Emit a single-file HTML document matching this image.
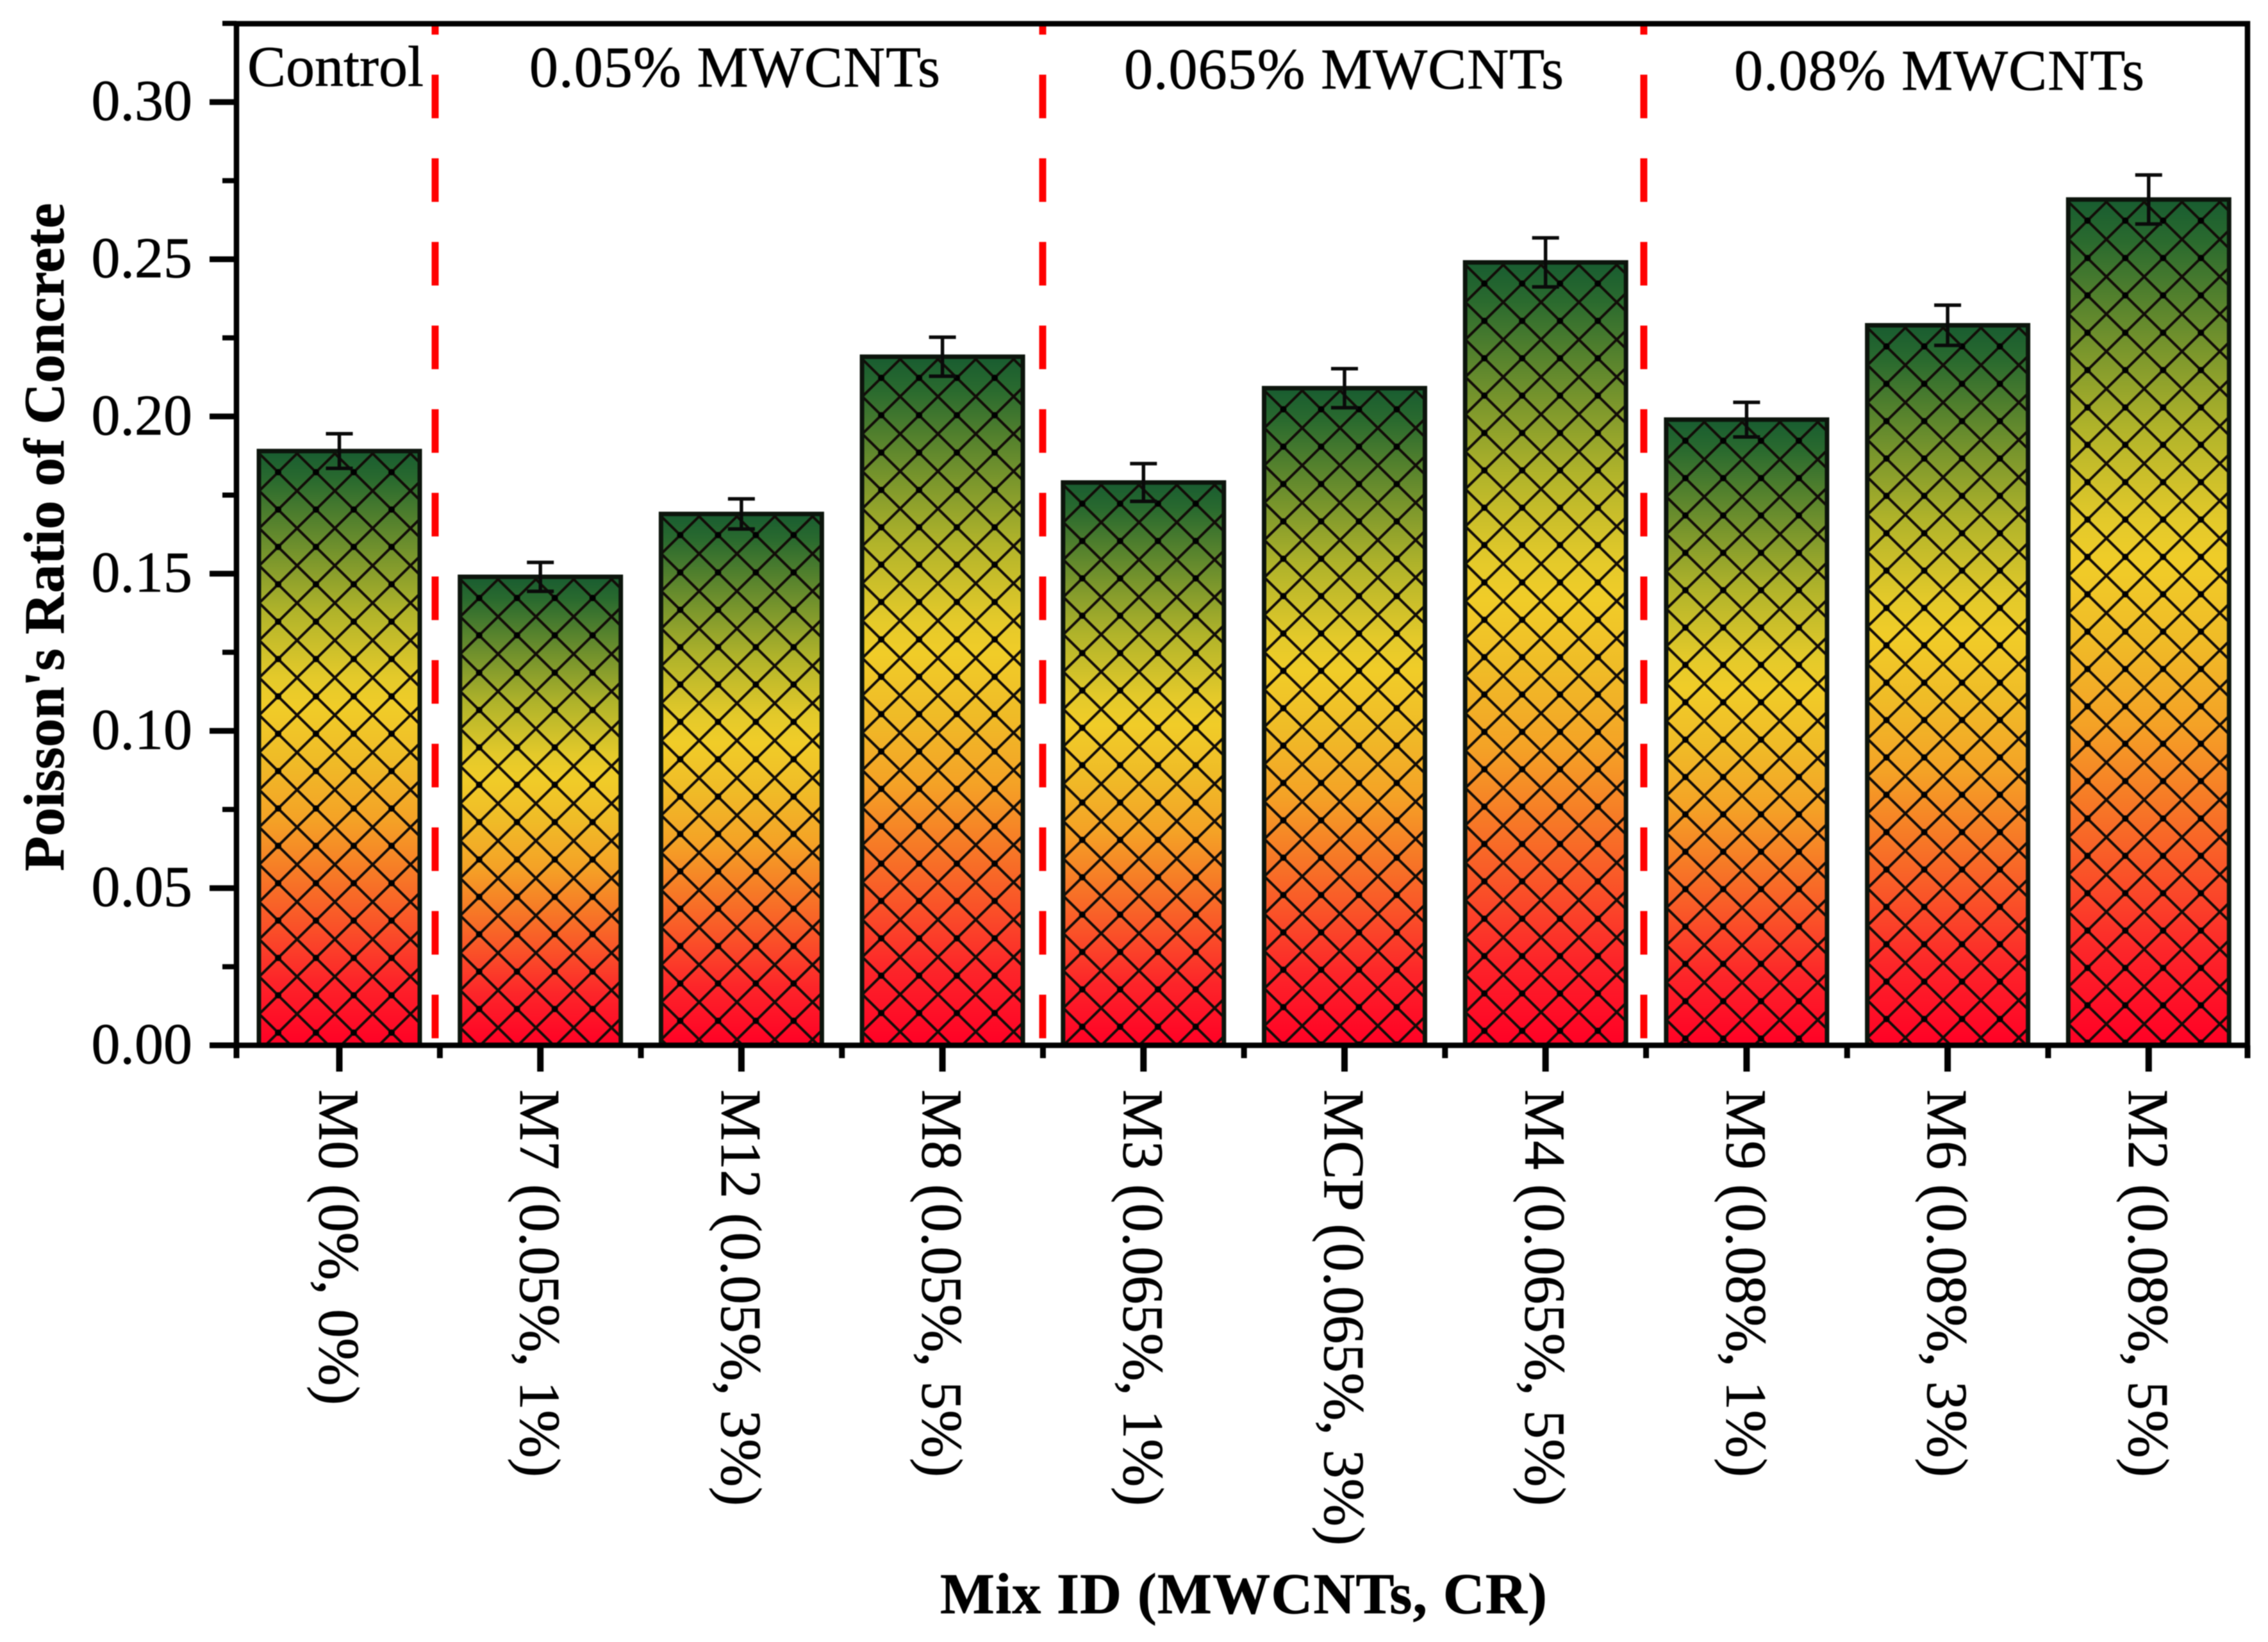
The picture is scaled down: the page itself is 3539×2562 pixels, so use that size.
<!DOCTYPE html>
<html lang="en">
<head>
<meta charset="utf-8">
<title>Poisson's Ratio of Concrete by Mix ID</title>
<style>
html,body{margin:0;padding:0;background:#fff;}
svg{display:block;filter:blur(0.9px);}
text{font-family:"Liberation Serif",serif;fill:#000;stroke:#000;stroke-width:0.7px;}
</style>
</head>
<body>
<svg id="chart" xmlns="http://www.w3.org/2000/svg" width="3539" height="2562" viewBox="0 0 3539 2562">
  <defs id="defs">
    <linearGradient id="barGradient" x1="0" y1="0" x2="0" y2="1">
      <stop offset="0" stop-color="#185c30"/>
      <stop offset="0.05" stop-color="#2a6a2e"/>
      <stop offset="0.18" stop-color="#7a962c"/>
      <stop offset="0.27" stop-color="#b0b32a"/>
      <stop offset="0.38" stop-color="#e3c92a"/>
      <stop offset="0.43" stop-color="#f0cc28"/>
      <stop offset="0.52" stop-color="#efbb27"/>
      <stop offset="0.62" stop-color="#f4a226"/>
      <stop offset="0.71" stop-color="#f67a26"/>
      <stop offset="0.79" stop-color="#f95628"/>
      <stop offset="0.89" stop-color="#fc2529"/>
      <stop offset="1" stop-color="#ff0025"/>
    </linearGradient>
  </defs>
  <rect x="0" y="0" width="3539" height="2562" fill="#ffffff"/>
  <g id="bars"></g>
  <g id="errors"></g>

  <g stroke="#ff0000" stroke-width="11" fill="none" stroke-dasharray="68 62.5">
    <line x1="679" y1="1620" x2="679" y2="37"/>
    <line x1="1627" y1="1620" x2="1627" y2="37"/>
    <line x1="2565" y1="1620" x2="2565" y2="37"/>
  </g>

  <g id="axes"></g>
  <rect x="369" y="37" width="3138" height="1594" fill="none" stroke="#000" stroke-width="8.5"/>

  <g font-size="90">
    <text x="386" y="134" font-size="90">Control</text>
    <text x="826" y="135" font-size="90" textLength="641" lengthAdjust="spacing">0.05% MWCNTs</text>
    <text x="1754" y="138" font-size="90" textLength="686" lengthAdjust="spacing">0.065% MWCNTs</text>
    <text x="2706" y="140" font-size="90" textLength="640" lengthAdjust="spacing">0.08% MWCNTs</text>
  </g>

  <text transform="translate(99,838) rotate(-90)" text-anchor="middle" font-size="89.3" font-weight="bold">Poisson's Ratio of Concrete</text>
  <text x="1467" y="2517" font-size="90" font-weight="bold" textLength="947" lengthAdjust="spacing">Mix ID (MWCNTs, CR)</text>
</svg>

<script>
const categories = ["M0 (0%, 0%)", "M7 (0.05%, 1%)", "M12 (0.05%, 3%)", "M8 (0.05%, 5%)", "M3 (0.065%, 1%)", "MCP (0.065%, 3%)", "M4 (0.065%, 5%)", "M9 (0.08%, 1%)", "M6 (0.08%, 3%)", "M2 (0.08%, 5%)"];
const poissonValues = [0.189, 0.149, 0.169, 0.219, 0.179, 0.209, 0.249, 0.199, 0.229, 0.269];
const errorValues = [0.0055, 0.0046, 0.0048, 0.0062, 0.006, 0.0062, 0.0078, 0.0055, 0.0064, 0.0078];
const yMajorTicks = [0, 0.05, 0.10, 0.15, 0.20, 0.25, 0.30];
const yTickLabels = ["0.00", "0.05", "0.10", "0.15", "0.20", "0.25", "0.30"];
const yMinorTicks = [0.025, 0.075, 0.125, 0.175, 0.225, 0.275, 0.325];

const SVGNS = "http://www.w3.org/2000/svg";
const xScale = i => 529.5 + 313.7 * i;
const yScale = v => 1631 - 4906 * v;
const BAR_W = 251;
const HATCH_W = 59;
const HATCH_H = 58.3;

function mk(tag, attrs, parent) {
  const el = document.createElementNS(SVGNS, tag);
  for (const k in attrs) el.setAttribute(k, attrs[k]);
  parent.appendChild(el);
  return el;
}

const defs = document.getElementById("defs");
const barsG = document.getElementById("bars");
const errG = document.getElementById("errors");
const axesG = document.getElementById("axes");

function hatchPath(W, H) {
  let d = "";
  [-W, 0, W].forEach(dx => {
    d += "M" + (dx - W) + "," + (-H) + "L" + (dx + 2 * W) + "," + (2 * H);
    d += "M" + (dx + 2 * W) + "," + (-H) + "L" + (dx - W) + "," + (2 * H);
  });
  return d;
}

poissonValues.forEach((v, i) => {
  const cx = xScale(i);
  const left = cx - BAR_W / 2;
  const top = yScale(v);
  const base = yScale(0);

  const pat = mk("pattern", {
    id: "hatch" + i,
    patternUnits: "userSpaceOnUse",
    x: left + 30,
    y: top + 33,
    width: HATCH_W,
    height: HATCH_H
  }, defs);
  mk("path", { d: hatchPath(HATCH_W, HATCH_H), stroke: "#120c08", "stroke-width": 4, fill: "none" }, pat);
  mk("circle", { cx: 0, cy: 0, r: 5, fill: "#000" }, pat);
  mk("circle", { cx: HATCH_W, cy: 0, r: 5, fill: "#000" }, pat);
  mk("circle", { cx: 0, cy: HATCH_H, r: 5, fill: "#000" }, pat);
  mk("circle", { cx: HATCH_W, cy: HATCH_H, r: 5, fill: "#000" }, pat);

  const fill = mk("rect", { x: left, y: top, width: BAR_W, height: base - top, fill: "url(#barGradient)" }, barsG);
  
  

  const bar = mk("rect", { x: left, y: top, width: BAR_W, height: base - top, fill: "url(#hatch" + i + ")", stroke: "#0c140c", "stroke-width": 7 }, barsG);
  
  

  const e = errorValues[i];
  const yHi = yScale(v + e);
  const yLo = yScale(v - e);
  const err = mk("path", {
    d: "M" + (cx - 21) + "," + yHi + "H" + (cx + 21) + "M" + cx + "," + yHi + "V" + yLo + "M" + (cx - 21) + "," + yLo + "H" + (cx + 21),
    stroke: "#0a0a0a", "stroke-width": 5.5, fill: "none"
  }, errG);
  
  

  const tick = mk("line", { x1: cx, x2: cx, y1: 1631, y2: 1672, stroke: "#000", "stroke-width": 10 }, axesG);
  
  

  const minorX = i === 0 ? 369 : cx - 156.85;
  const minor = mk("line", { x1: minorX, x2: minorX, y1: 1631, y2: 1651, stroke: "#000", "stroke-width": 9 }, axesG);
  
  

  const label = mk("text", { transform: "translate(" + (cx - 31) + ",1700) rotate(90)", "font-size": 90 }, axesG);
  label.textContent = categories[i];
  
  
});

const lastMinor = mk("line", { x1: 3507, x2: 3507, y1: 1631, y2: 1651, stroke: "#000", "stroke-width": 9 }, axesG);



yMajorTicks.forEach((v, i) => {
  const y = yScale(v);
  const tick = mk("line", { x1: 327, x2: 369, y1: y, y2: y, stroke: "#000", "stroke-width": 9 }, axesG);
  
  

  const label = mk("text", { x: 300, y: y + 28, "text-anchor": "end", "font-size": 90 }, axesG);
  label.textContent = yTickLabels[i];
  
  
});

yMinorTicks.forEach(v => {
  const y = yScale(v);
  const tick = mk("line", { x1: 347, x2: 369, y1: y, y2: y, stroke: "#000", "stroke-width": 8 }, axesG);
  
  
});
</script>
</body>
</html>
